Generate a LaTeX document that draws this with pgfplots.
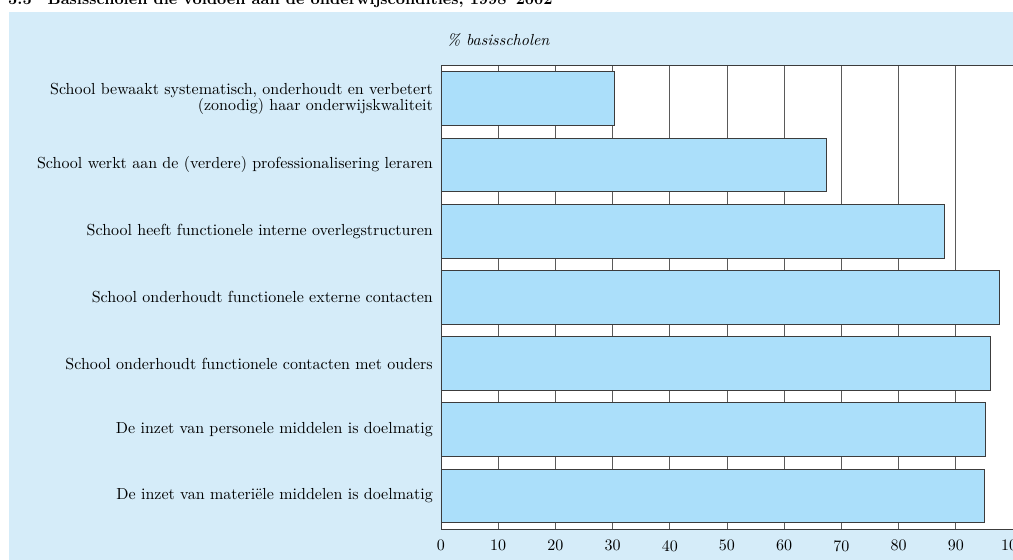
\documentclass[border=0pt]{standalone}
\usepackage{fontspec}
\setmainfont{lmroman10-regular.otf}[
  BoldFont=lmroman10-bold.otf,
  ItalicFont=lmroman10-italic.otf,
  BoldItalicFont=lmroman10-bolditalic.otf]
\usepackage{pgfplots}
\pgfplotsset{compat=1.18}
\definecolor{bgblue}{HTML}{D5ECF9}
\definecolor{barblue}{HTML}{ABDFFA}
\definecolor{bardraw}{HTML}{3C3C3C}
\definecolor{gridgray}{HTML}{5A5A5A}
\newcommand{\lbl}{\fontsize{16}{13.5}\selectfont}
\begin{document}
\begin{tikzpicture}[x=1pt,y=1pt]
\fill[bgblue] (9,0) rectangle (1013,548);
\node[anchor=base west, font=\lbl\bfseries, inner sep=0pt] at (8,555)
  {5.5\quad Basisscholen die voldoen aan de onderwijscondities, 1998--2002};
\node[anchor=west, font=\lbl\itshape, inner sep=0pt] at (447,520) {\% basisscholen};
\begin{axis}[
  at={(441pt,31pt)}, anchor=south west,
  scale only axis,
  width=572pt, height=463.3pt,
  xbar, bar width=53.7pt,
  xmin=0, xmax=100,
  ymin=-0.5, ymax=6.5,
  y dir=reverse,
  xtick={0,10,...,100},
  ytick={0,...,6},
  yticklabels={
    {School bewaakt systematisch, onderhoudt en verbetert\\(zonodig) haar onderwijskwaliteit},
    School werkt aan de (verdere) professionalisering leraren,
    School heeft functionele interne overlegstructuren,
    School onderhoudt functionele externe contacten,
    School onderhoudt functionele contacten met ouders,
    De inzet van personele middelen is doelmatig,
    De inzet van materiële middelen is doelmatig},
  major tick length=0pt,
  xmajorgrids,
  grid style={gridgray, line width=0.9pt},
  axis line style={bardraw, line width=0.9pt},
  axis background/.style={fill=white},
  tick label style={font=\lbl},
  yticklabel style={align=right, inner sep=0pt, xshift=-8pt},
  xticklabel style={inner sep=0pt, yshift=-11pt},
  /pgf/number format/assume math mode=true,
]
\addplot[fill=barblue, draw=bardraw, line width=0.9pt] coordinates {
  (30.3,0) (67.3,1) (88.0,2) (97.7,3) (96.0,4) (95.2,5) (95.0,6)};
\end{axis}
\pgfresetboundingbox
\useasboundingbox (0,0) rectangle (1013,560);
\end{tikzpicture}
\end{document}
